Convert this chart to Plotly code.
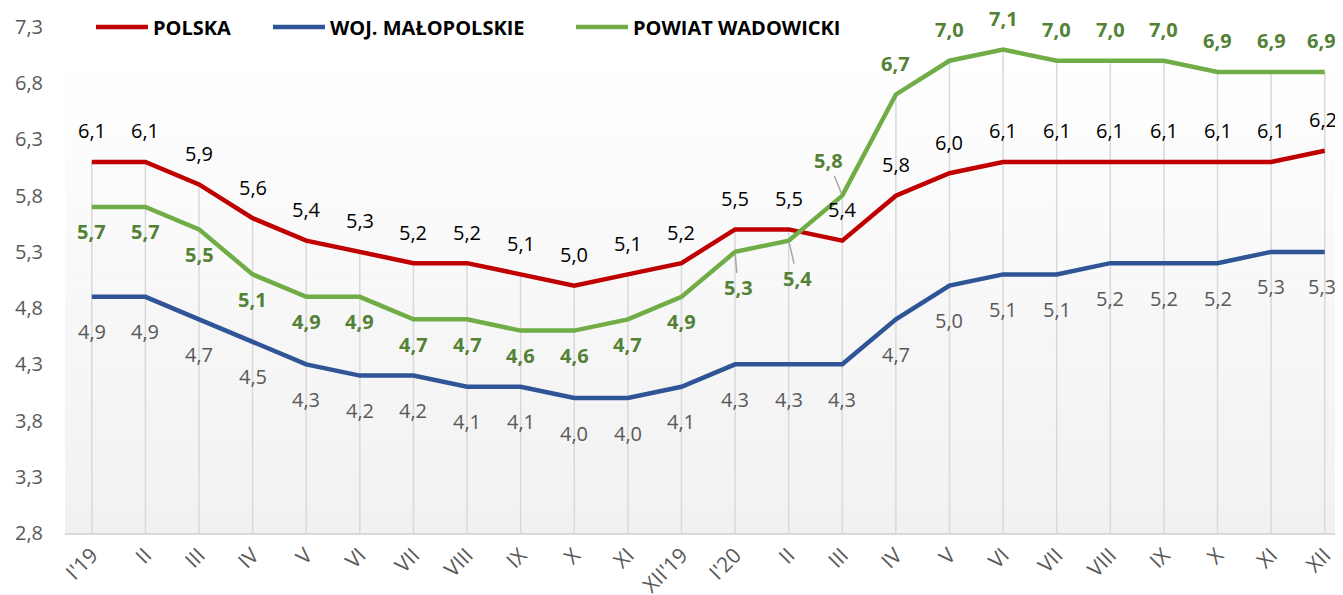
import plotly.graph_objects as go

months = ["I'19", "II", "III", "IV", "V", "VI", "VII", "VIII", "IX", "X", "XI", "XII'19",
          "I'20", "II", "III", "IV", "V", "VI", "VII", "VIII", "IX", "X", "XI", "XII"]
polska = [6.1, 6.1, 5.9, 5.6, 5.4, 5.3, 5.2, 5.2, 5.1, 5.0, 5.1, 5.2,
          5.5, 5.5, 5.4, 5.8, 6.0, 6.1, 6.1, 6.1, 6.1, 6.1, 6.1, 6.2]
malopolskie = [4.9, 4.9, 4.7, 4.5, 4.3, 4.2, 4.2, 4.1, 4.1, 4.0, 4.0, 4.1,
               4.3, 4.3, 4.3, 4.7, 5.0, 5.1, 5.1, 5.2, 5.2, 5.2, 5.3, 5.3]
wadowicki = [5.7, 5.7, 5.5, 5.1, 4.9, 4.9, 4.7, 4.7, 4.6, 4.6, 4.7, 4.9,
             5.3, 5.4, 5.8, 6.7, 7.0, 7.1, 7.0, 7.0, 7.0, 6.9, 6.9, 6.9]
series_names = ["POLSKA", "WOJ. MAŁOPOLSKIE", "POWIAT WADOWICKI"]
y_ticks = [2.8, 3.3, 3.8, 4.3, 4.8, 5.3, 5.8, 6.3, 6.8, 7.3]

FONT = "Open Sans"
RED, BLUE, GREEN = "#c00000", "#2f5597", "#70ad47"
GREEN_TXT, GRAY_TXT = "#538135", "#595959"

x = list(range(len(months)))
fmt = lambda v: f"{v:.1f}".replace(".", ",")

fig = go.Figure()

# gradient plot-area background (plot area spans y from 2.8 up to ~6.91)
n = 46
y_lo, y_hi = 2.8, 6.91
for k in range(n):
    t = k / (n - 1)
    c = int(round(0xf1 + (0xfe - 0xf1) * t))
    fig.add_shape(type="rect", xref="paper", yref="y",
                  x0=0, x1=1, y0=y_lo + (y_hi - y_lo) * k / n,
                  y1=y_lo + (y_hi - y_lo) * (k + 1) / n,
                  fillcolor=f"rgb({c},{c},{c})", line_width=0, layer="below")

# drop lines from the highest series value down to the axis
ymin = y_ticks[0]
dx, dy = [], []
for i in x:
    m = max(polska[i], malopolskie[i], wadowicki[i])
    dx += [i, i, None]
    dy += [m, ymin, None]
fig.add_trace(go.Scatter(x=dx, y=dy, mode="lines", line=dict(color="#d9d9d9", width=1.5),
                         showlegend=False, hoverinfo="skip"))

fig.add_trace(go.Scatter(x=x, y=polska, mode="lines", name=series_names[0],
                         line=dict(color=RED, width=4.5), legendwidth=110))
fig.add_trace(go.Scatter(x=x, y=malopolskie, mode="lines", name=series_names[1],
                         line=dict(color=BLUE, width=4.5), legendwidth=236))
fig.add_trace(go.Scatter(x=x, y=wadowicki, mode="lines", name=series_names[2],
                         line=dict(color=GREEN, width=4.5)))

# data labels
LBL = 20
last = len(x) - 1
for i, v in zip(x, polska):
    fig.add_annotation(x=i, y=v, text=fmt(v), showarrow=False, yshift=31,
                       xshift=(-2 if i == last else 0),
                       font=dict(family=FONT, size=LBL, color="#000000"))
for i, v in zip(x, malopolskie):
    fig.add_annotation(x=i, y=v, text=fmt(v), showarrow=False, yshift=-35,
                       xshift=(-3 if i == last else 0),
                       font=dict(family=FONT, size=LBL, color=GRAY_TXT))
leaders = {12: (3, 36), 13: (9, 38), 14: (-14, -35)}
for i, v in zip(x, wadowicki):
    f = dict(family=FONT, size=LBL, color=GREEN_TXT, weight="bold")
    if i in leaders:
        ax, ay = leaders[i]
        fig.add_annotation(x=i, y=v, text=fmt(v), showarrow=True, arrowhead=0,
                           arrowcolor="#a6a6a6", arrowwidth=1.5, ax=ax, ay=ay,
                           standoff=2, font=f)
    else:
        fig.add_annotation(x=i, y=v, text=fmt(v), showarrow=False,
                           xshift=(-3 if i == last else 0),
                           yshift=(-25 if i < 12 else 31), font=f)

fig.update_layout(
    width=1343, height=595,
    margin=dict(l=57, r=0, t=0, b=70, autoexpand=False),
    paper_bgcolor="white", plot_bgcolor="rgba(0,0,0,0)",
    separators=", ",
    showlegend=True,
    legend=dict(orientation="h", x=0.0202, xanchor="left", y=0.9638, yanchor="middle",
                font=dict(family=FONT, size=20, color="#000000", weight="bold"),
                bgcolor="rgba(0,0,0,0)", itemwidth=52),
    xaxis=dict(range=[-0.5, 23.49], tickmode="array", tickvals=x, ticktext=months,
               tickangle=-45, showgrid=False, zeroline=False, automargin=False,
               showline=True, linecolor="#d9d9d9", linewidth=1.5,
               tickfont=dict(family=FONT, size=21, color=GRAY_TXT)),
    yaxis=dict(range=[2.8, 7.469], tickmode="array", tickvals=y_ticks, tickformat=".1f",
               showgrid=False, zeroline=False, showline=False, automargin=False,
               ticklabelstandoff=21,
               tickfont=dict(family=FONT, size=20, color=GRAY_TXT)),
    font=dict(family=FONT),
)

fig.write_html("out.html")
